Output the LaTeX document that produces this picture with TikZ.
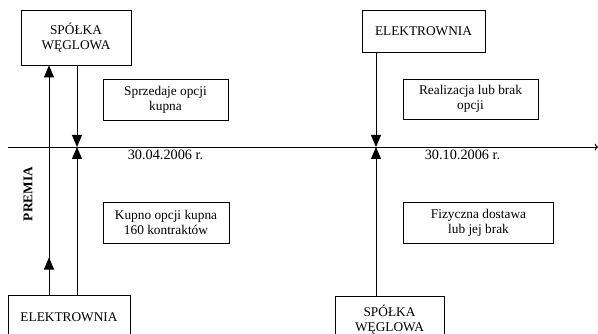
\documentclass[tikz,border=0pt]{standalone}
\usepackage{fontspec}
\setmainfont{Liberation Serif}
\usetikzlibrary{arrows.meta}
\begin{document}
\begin{tikzpicture}[x=0.75pt, y=-0.75pt, line width=0.7pt,
	every node/.style={font=\fontsize{10}{11.5}\selectfont},
	box/.style={draw, align=center, inner sep=0pt},
	data/.style={font=\fontsize{10.7}{12}\selectfont},
	tri/.style={-{Triangle[length=9pt,width=7.5pt]}}]
				\useasboundingbox (0,0) rectangle (598,334);

				\node[box, minimum width=82.5pt, minimum height=41.25pt] (swTop) at (76,37.5) {SPÓŁKA\\WĘGLOWA};
				\node[box, minimum width=92.25pt, minimum height=31.5pt] (elTop) at (423.5,31) {ELEKTROWNIA};
				\node[box, minimum width=93.75pt, minimum height=30.75pt] (sprzedaz) at (165.5,99.5) {Sprzedaje opcji\\kupna};
				\node[box, minimum width=101.25pt, minimum height=30pt] (realizacja) at (470.5,99) {Realizacja lub brak\\opcji};
				\node[box, minimum width=94.5pt, minimum height=30.75pt] (kupno) at (166,222.5) {Kupno opcji kupna\\160 kontraktów};
				\node[box, minimum width=112.5pt, minimum height=30.75pt] (dostawa) at (478.5,222.5) {Fizyczna dostawa\\lub jej brak};
				\node[box, minimum width=91.5pt, minimum height=33pt] (elBot) at (69,317) {ELEKTROWNIA};
				\node[box, minimum width=81.75pt, minimum height=35.25pt] (swBot) at (389.5,319.5) {SPÓŁKA\\WĘGLOWA};

				\coordinate (os0) at (8,147);
				\coordinate (os1) at (598,147);
				\draw[-{To[length=2.5pt]}] (os0) -- (os1);

				\coordinate (xA) at (49,0);
				\coordinate (xB) at (77,0);
				\coordinate (xC) at (376,0);
				\draw[tri] (elBot.north -| xA) -- (swTop.south -| xA);
				\draw[tri] (elBot.north -| xA) -- ++(0,-37);
				\draw[tri] (swTop.south -| xB) -- (os0 -| xB);
				\draw[tri] (elBot.north -| xB) -- (os0 -| xB);
				\draw[tri] (elTop.south -| xC) -- (os0 -| xC);
				\draw[tri] (swBot.north -| xC) -- (os0 -| xC);

				\node[data] (data1) at (165.5,155) {30.04.2006 r.};
				\node[data] (data2) at (462.5,155) {30.10.2006 r.};
				\node[rotate=90, font=\fontsize{10}{11.5}\selectfont\bfseries] (premia) at (28,194) {PREMIA};
			\end{tikzpicture}
\end{document}
